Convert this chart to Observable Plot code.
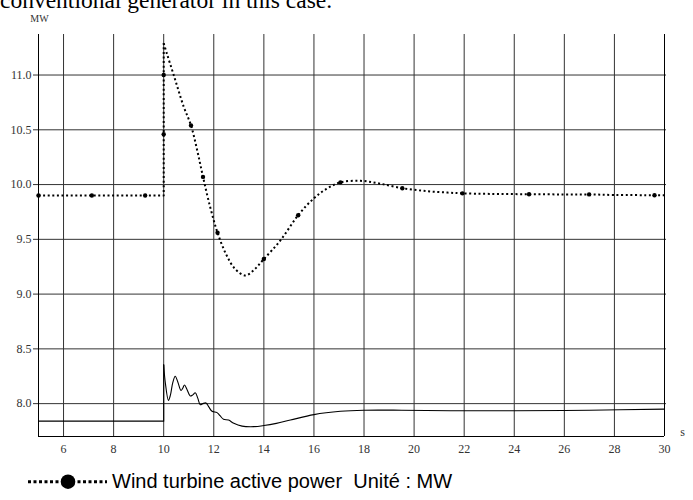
<!DOCTYPE html>
<html>
<head>
<meta charset="utf-8">
<script src="https://cdn.jsdelivr.net/npm/d3@7"></script>
<script src="https://cdn.jsdelivr.net/npm/@observablehq/plot@0.6"></script>
<style>
  html, body { margin: 0; padding: 0; background: #fff; }
  #wrap { position: relative; width: 693px; height: 500px; overflow: hidden; background: #fff; }
  #chart { position: absolute; left: 0; top: 0; }
  #header { position: absolute; left: 0; top: -11px; font-family: "Liberation Serif", serif; font-size: 23.5px; line-height: 1; color: #000; white-space: pre; }
  #legend-sym { position: absolute; left: 0; top: 465px; }
  #legend-text { position: absolute; left: 112px; top: 471px; font-family: "Liberation Sans", Arial, sans-serif; font-size: 20px; line-height: 1; color: #000; white-space: pre; }
</style>
</head>
<body>
<div id="wrap">
  <div id="chart"></div>
  <div id="header">conventional generator in this case.</div>
  <svg id="legend-sym" width="112" height="35">
    <line x1="28" y1="16.7" x2="107" y2="16.7" stroke="#000" stroke-width="3" stroke-dasharray="3,2.5"></line>
    <circle cx="68" cy="16.7" r="7.3" fill="#000"></circle>
  </svg>
  <div id="legend-text">Wind turbine active power  Unité : MW</div>
</div>
<script>
// ---- data ----
const xTicks = [6, 8, 10, 12, 14, 16, 18, 20, 22, 24, 26, 28, 30];
const xGrid = [6, 8, 10, 12, 14, 16, 18, 20, 22, 24, 26, 28];
const yTicks = [8.0, 8.5, 9.0, 9.5, 10.0, 10.5, 11.0];

// wind turbine active power (dotted) — before step
const windPreT = [5, 10, 10];
const windPreV = [9.9, 9.9, 11.29];
// after step
const windPostT = [10.0, 10.12, 10.4, 10.8, 11.09, 11.35, 11.57, 11.85, 12.15, 12.5, 12.85, 13.26, 13.6, 14.0, 14.66, 15.37, 16.0, 16.5, 17.06, 17.86, 18.6, 19.53, 20.5, 21.33, 21.93, 23.0, 24.59, 26.0, 26.99, 28.0, 29.6, 30.0];
const windPostV = [11.29, 11.2, 11.0, 10.71, 10.54, 10.3, 10.07, 9.8, 9.56, 9.36, 9.23, 9.17, 9.22, 9.32, 9.49, 9.72, 9.875, 9.96, 10.02, 10.034, 10.01, 9.967, 9.94, 9.927, 9.92, 9.915, 9.912, 9.91, 9.91, 9.905, 9.903, 9.902];
// markers on the dotted series
const markT = [5, 7.13, 9.26, 10, 10, 11.09, 11.57, 12.15, 14.0, 15.37, 17.06, 19.53, 21.93, 24.59, 26.99, 29.6];
const markV = [9.9, 9.9, 9.9, 10.46, 11.0, 10.54, 10.07, 9.56, 9.32, 9.72, 10.02, 9.967, 9.92, 9.912, 9.91, 9.903];

// second series (solid)
const solidPreT = [5, 10, 10];
const solidPreV = [7.84, 7.84, 8.355];
const solidPostT = [10.0, 10.06, 10.19, 10.27, 10.36, 10.46, 10.56, 10.69, 10.76, 10.83, 10.93, 11.06, 11.16, 11.26, 11.36, 11.46, 11.56, 11.69, 11.8, 11.93, 12.13, 12.25, 12.39, 12.59, 12.8, 13.13, 13.6, 14.0, 14.5, 15.06, 16.0, 17.06, 18.0, 19.5, 21.46, 24.0, 27.0, 30.0];
const solidPostV = [8.355, 8.2, 8.03, 8.08, 8.19, 8.25, 8.2, 8.12, 8.14, 8.17, 8.13, 8.07, 8.08, 8.10, 8.05, 7.99, 8.0, 8.006, 7.97, 7.93, 7.918, 7.89, 7.857, 7.85, 7.82, 7.795, 7.79, 7.80, 7.82, 7.85, 7.90, 7.93, 7.94, 7.94, 7.935, 7.935, 7.94, 7.95];

const toRows = (T, V) => T.map((t, i) => ({t, v: V[i]}));
const windPre = toRows(windPreT, windPreV);
const windPost = toRows(windPostT, windPostV);
const marks = toRows(markT, markV);
const solidPre = toRows(solidPreT, solidPreV);
const solidPost = toRows(solidPostT, solidPostV);

const X0 = 5, X1 = 30, Y0 = 7.7, Y1 = 11.37;
const gridColor = "#333";
const dash = "2,2.6";

const chart = Plot.plot({
  width: 693,
  height: 465,
  marginTop: 34,
  marginBottom: 29,
  marginLeft: 38,
  marginRight: 29,
  x: {domain: [X0, X1]},
  y: {domain: [Y0, Y1]},
  style: {fontFamily: "'Liberation Serif', serif", fontSize: "12px", color: "#333", background: "#fff"},
  marks: [
    Plot.ruleX(xGrid, {y1: Y0, y2: Y1, stroke: gridColor, strokeWidth: 1}),
    Plot.ruleY(yTicks, {x1: X0, x2: X1 + 0.08, stroke: gridColor, strokeWidth: 1}),
    Plot.ruleX([X0, X1], {y1: Y0, y2: Y1, stroke: "#000", strokeWidth: 1}),
    Plot.ruleY([Y0], {x1: X0, x2: X1, stroke: "#000", strokeWidth: 1}),
    Plot.axisX(xTicks, {tickSize: 0, tickPadding: 8, label: null, fill: "#333"}),
    Plot.axisY(yTicks, {tickSize: 5, tickPadding: 2, label: null, tickFormat: d3.format(".1f"), fill: "#333", stroke: gridColor}),
    Plot.line(solidPre, {x: "t", y: "v", stroke: "#000", strokeWidth: 1.1}),
    Plot.line(solidPost, {x: "t", y: "v", stroke: "#000", strokeWidth: 1.1, curve: "catmull-rom"}),
    Plot.line(windPre, {x: "t", y: "v", stroke: "#000", strokeWidth: 2, strokeDasharray: dash, strokeLinecap: "butt"}),
    Plot.line(windPost, {x: "t", y: "v", stroke: "#000", strokeWidth: 2, strokeDasharray: dash, strokeLinecap: "butt", curve: "catmull-rom"}),
    Plot.dot(marks, {x: "t", y: "v", r: 2.2, fill: "#000", stroke: null}),
    Plot.text(["MW"], {frameAnchor: "top-left", textAnchor: "middle", dx: 1, dy: -20, fontSize: 10, fill: "#333"}),
    Plot.text(["s"], {frameAnchor: "bottom-right", textAnchor: "middle", dx: 18, dy: -1, fontSize: 12, fill: "#333"})
  ]
});
document.getElementById("chart").appendChild(chart);
</script>
</body>
</html>
